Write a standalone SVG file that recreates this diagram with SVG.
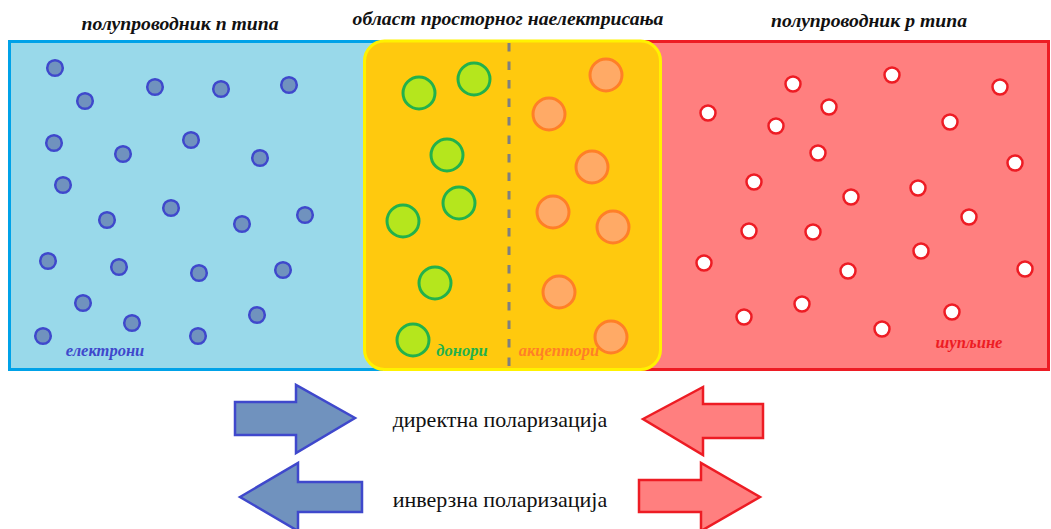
<svg xmlns="http://www.w3.org/2000/svg" width="1051" height="529" viewBox="0 0 1051 529">
  <style>
    .title { font-family: "Liberation Serif", "DejaVu Serif", serif; font-weight: bold; font-style: italic; font-size: 19.7px; fill: #111; text-anchor: middle; }
    .lbl { font-family: "Liberation Serif", "DejaVu Serif", serif; font-weight: bold; font-style: italic; font-size: 16.5px; text-anchor: middle; }
    .caption { font-family: "Liberation Serif", "DejaVu Serif", serif; font-size: 22px; fill: #111; text-anchor: middle; }
    .e { fill: #7092be; stroke: #3f48cc; stroke-width: 2.5; }
    .h { fill: #ffffff; stroke: #ed1c24; stroke-width: 2.5; }
    .d { fill: #b5e61d; stroke: #22b14c; stroke-width: 3; }
    .a { fill: #ffaa66; stroke: #ff7f27; stroke-width: 3; }
    .arrB { fill: #7092be; stroke: #3f48cc; stroke-width: 2.5; stroke-linejoin: miter; }
    .arrR { fill: #ff7f7f; stroke: #ed1c24; stroke-width: 2.5; stroke-linejoin: miter; }
  </style>
  <rect width="1051" height="529" fill="#ffffff"/>

  <!-- n-type region -->
  <g id="n-region">
    <rect x="9.5" y="41.5" width="372" height="328" fill="#99d9ea" stroke="#00a2e8" stroke-width="3"/>
    <g class="e">
      <circle cx="55" cy="68" r="7.8"/><circle cx="85" cy="101" r="7.8"/><circle cx="155" cy="87" r="7.8"/>
      <circle cx="221" cy="89" r="7.8"/><circle cx="289" cy="85" r="7.8"/><circle cx="54" cy="143" r="7.8"/>
      <circle cx="123" cy="154" r="7.8"/><circle cx="191" cy="140" r="7.8"/><circle cx="260" cy="158" r="7.8"/>
      <circle cx="63" cy="185" r="7.8"/><circle cx="107" cy="220" r="7.8"/><circle cx="171" cy="208" r="7.8"/>
      <circle cx="242" cy="224" r="7.8"/><circle cx="305" cy="215" r="7.8"/><circle cx="48" cy="261" r="7.8"/>
      <circle cx="119" cy="267" r="7.8"/><circle cx="199" cy="273" r="7.8"/><circle cx="283" cy="270" r="7.8"/>
      <circle cx="83" cy="303" r="7.8"/><circle cx="132" cy="323" r="7.8"/><circle cx="43" cy="336" r="7.8"/>
      <circle cx="198" cy="336" r="7.8"/><circle cx="257" cy="315" r="7.8"/>
    </g>
    <text class="lbl" x="105" y="356" fill="#3f48cc">електрони</text>
  </g>

  <!-- p-type region -->
  <g id="p-region">
    <rect x="640" y="41.5" width="408.5" height="328" fill="#ff7f7f" stroke="#ed1c24" stroke-width="3"/>
    <g class="h">
      <circle cx="708" cy="113" r="7.5"/><circle cx="793" cy="84" r="7.5"/><circle cx="829" cy="107" r="7.5"/>
      <circle cx="892" cy="75" r="7.5"/><circle cx="1000" cy="87" r="7.5"/><circle cx="950" cy="122" r="7.5"/>
      <circle cx="776" cy="126" r="7.5"/><circle cx="818" cy="153" r="7.5"/><circle cx="1015" cy="163" r="7.5"/>
      <circle cx="754" cy="182" r="7.5"/><circle cx="851" cy="197" r="7.5"/><circle cx="918" cy="188" r="7.5"/>
      <circle cx="969" cy="217" r="7.5"/><circle cx="749" cy="231" r="7.5"/><circle cx="813" cy="232" r="7.5"/>
      <circle cx="704" cy="263" r="7.5"/><circle cx="848" cy="271" r="7.5"/><circle cx="921" cy="251" r="7.5"/>
      <circle cx="1025" cy="269" r="7.5"/><circle cx="744" cy="317" r="7.5"/><circle cx="802" cy="304" r="7.5"/>
      <circle cx="882" cy="329" r="7.5"/><circle cx="952" cy="312" r="7.5"/>
    </g>
    <text class="lbl" x="969" y="348" fill="#ed1c24">шупљине</text>
  </g>

  <!-- depletion (space charge) region -->
  <g id="depletion-region">
    <rect x="364.5" y="41" width="296" height="328.5" rx="20" ry="20" fill="#ffc90e" stroke="#fff200" stroke-width="3"/>
    <line x1="509" y1="43" x2="509" y2="369" stroke="#7f7f7f" stroke-width="3" stroke-dasharray="8.5 10"/>
    <g class="d">
      <circle cx="419" cy="93" r="16"/><circle cx="474" cy="79" r="16"/><circle cx="447" cy="155" r="16"/>
      <circle cx="459" cy="203" r="16"/><circle cx="403" cy="221" r="16"/><circle cx="435" cy="283" r="16"/>
      <circle cx="413" cy="340" r="16"/>
    </g>
    <g class="a">
      <circle cx="606" cy="75" r="16"/><circle cx="549" cy="114" r="16"/><circle cx="592" cy="167" r="16"/>
      <circle cx="553" cy="212" r="16"/><circle cx="613" cy="227" r="16"/><circle cx="559" cy="292" r="16"/>
      <circle cx="611" cy="337" r="16"/>
    </g>
    <text class="lbl" x="462" y="356" fill="#22b14c">донори</text>
    <text class="lbl" x="559" y="356" fill="#ff7f27">акцептори</text>
  </g>

  <!-- headings -->
  <g id="headings">
    <text class="title" x="180" y="30">полупроводник n типа</text>
    <text class="title" x="508" y="25">област просторног наелектрисања</text>
    <text class="title" x="869" y="27">полупроводник p типа</text>
  </g>

  <!-- bias arrows -->
  <g id="forward-bias">
    <polygon class="arrB" points="235,402 296,402 296,385 355,418 296,453 296,435 235,435"/>
    <polygon class="arrR" points="643,419 703,387 703,404 763,404 763,438 703,438 703,455"/>
    <text class="caption" x="500" y="427">директна поларизација</text>
  </g>
  <g id="reverse-bias">
    <polygon class="arrB" points="240,497 298,463 298,482 362,482 362,512 298,512 298,531"/>
    <polygon class="arrR" points="639,480 701,480 701,463 760,497 701,531 701,512 639,512"/>
    <text class="caption" x="500" y="507">инверзна поларизација</text>
  </g>
</svg>
